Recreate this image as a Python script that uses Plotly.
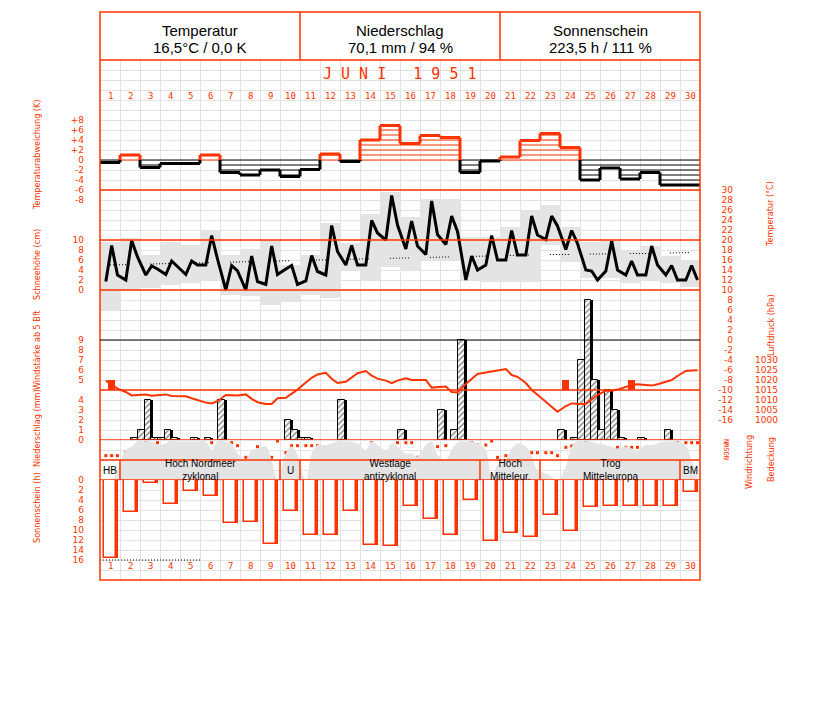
import plotly.graph_objects as go

W, H = 827, 702
OFF = 8  # default page body margin
RED = "#ff3300"
GRID = "#e2e2e2"
GREY = "#e4e4e4"
MONO = "DejaVu Sans Mono"
TICKF = "DejaVu Sans"
NARROW = "DejaVu Sans Condensed, Liberation Sans"

# ---------------- data ----------------
days = list(range(1, 31))
obs_hours = [7, 14, 21]

header_titles = ["Temperatur", "Niederschlag", "Sonnenschein"]
header_values = ["16,5°C / 0,0 K", "70,1 mm / 94 %", "223,5 h / 111 %"]
month_title = "J U N I   1 9 5 1"

# daily temperature deviation (K)
temp_dev = [-0.5, 1.0, -1.5, -0.7, -0.7, 1.0, -2.5, -3.0, -2.0, -3.3,
            -1.9, 1.2, -0.3, 4.0, 6.9, 3.3, 4.9, 4.5, -2.5, -0.2,
            0.6, 3.9, 5.3, 2.5, -4.0, -1.6, -3.8, -2.5, -5.0, -5.0]

# temperature at 7, 14, 21 h (°C)
temp_obs = [11.7, 18.9, 13.0, 12.0, 19.9, 16.6, 13.0, 14.8, 14.2, 13.1, 15.8, 14.6,
            13.1, 15.8, 15.0, 15.0, 20.9, 16.2, 10.0, 14.9, 13.8, 10.0, 16.8, 11.7,
            11.1, 18.8, 13.1, 14.2, 14.9, 11.1, 11.8, 16.9, 13.7, 13.0, 22.9, 17.7,
            15.0, 18.9, 15.0, 15.0, 23.9, 21.4, 20.0, 28.9, 23.0, 18.2, 23.8, 18.8,
            17.1, 27.8, 21.1, 19.1, 24.8, 21.7, 12.0, 16.8, 14.0, 15.0, 20.9, 16.0,
            16.0, 21.9, 17.0, 17.0, 24.8, 21.0, 20.1, 24.8, 22.8, 18.1, 21.9, 19.3,
            14.0, 13.8, 12.0, 13.8, 19.8, 14.0, 13.0, 15.8, 13.0, 13.0, 18.8, 15.0,
            13.0, 14.9, 12.0, 12.0, 14.9, 12.0]

temp_max = [19.6, 20.4, 17.0, 19.6, 19.0, 22.0, 17.0, 18.2, 19.8, 15.0,
            17.0, 23.4, 19.4, 25.2, 29.6, 24.6, 28.2, 28.2, 20.6, 20.6,
            22.6, 25.8, 27.0, 22.6, 19.6, 20.2, 18.0, 18.8, 16.8, 16.0]
temp_min = [6.0, 10.0, 10.5, 11.0, 11.4, 12.0, 9.0, 8.8, 7.0, 7.6,
            9.0, 8.4, 14.0, 12.0, 14.6, 14.0, 16.0, 16.0, 12.0, 11.6,
            11.6, 11.6, 19.0, 15.6, 12.4, 12.4, 11.4, 12.0, 11.4, 10.6]
temp_normal = [15.0, 15.1, 15.2, 15.3, 15.4, 15.5, 15.6, 15.6, 15.7, 15.8,
               15.9, 16.0, 16.1, 16.3, 16.4, 16.5, 16.6, 16.7, 16.8, 16.9,
               17.0, 17.0, 17.1, 17.1, 17.2, 17.2, 17.3, 17.3, 17.4, 17.5]

# air pressure at 7, 14, 21 h (hPa)
pressure_obs = [1019.7, 1017.5, 1015.7, 1014.0, 1012.3, 1012.5, 1012.7, 1012.1, 1012.5,
                1012.8, 1012.0, 1012.0, 1011.9, 1010.9, 1010.0, 1008.7, 1008.3, 1009.4,
                1012.5, 1012.4, 1012.3, 1012.8, 1010.6, 1008.9, 1008.0, 1008.0, 1010.9,
                1011.1, 1013.0, 1015.2, 1018.7, 1021.1, 1022.8, 1023.6, 1020.6, 1018.5,
                1019.1, 1021.1, 1023.4, 1024.5, 1022.2, 1020.7, 1019.7, 1018.4, 1019.7,
                1020.8, 1020.0, 1020.0, 1020.0, 1016.2, 1016.4, 1016.7, 1014.0, 1013.8,
                1018.0, 1020.3, 1023.0, 1023.8, 1024.2, 1024.9, 1025.5, 1022.5, 1021.6,
                1018.5, 1015.0, 1012.6, 1009.1, 1006.2, 1004.1, 1007.0, 1008.3, 1008.1,
                1008.0, 1010.3, 1012.6, 1014.6, 1014.6, 1015.2, 1016.6, 1017.5, 1017.9,
                1017.5, 1017.2, 1017.9, 1019.0, 1020.0, 1022.0, 1024.5, 1024.8, 1024.9]

# precipitation per third of a day (mm)
precip_third = [0, 0, 0, 0, 0, 0.2, 1.0, 4.0, 0.2, 0.2, 1.0, 0.2,
                0, 0, 0.2, 0, 0.2, 0, 4.0, 0, 0, 0, 0, 0,
                0, 0, 0, 0, 2.0, 1.0, 0.2, 0.2, 0, 0, 0, 0,
                4.0, 0, 0, 0, 0, 0, 0, 0, 0, 1.0, 0, 0,
                0, 0, 0, 3.0, 0, 1.0, 10.0, 0, 0, 0, 0, 0,
                0, 0, 0, 0, 0, 0, 0, 0, 0, 1.0, 0, 0.2,
                8.0, 14.0, 6.0, 1.0, 5.0, 3.0, 0.2, 0, 0, 0.2, 0, 0,
                0, 1.0, 0, 0, 0, 0]

# wind direction at 7, 14, 21 h (degrees)
wind_dir_obs = [96, 96, 96, 156, 138, 186, 330, 66, 330, 156, 198, 150,
                198, 276, 276, 186, 330, 276, 276, 330, 276, 66, 66, 258,
                66, 66, 360, 150, 276, 276, 276, 276, 276, 150, 150, 138,
                276, 276, 276, 150, 330, 150, 150, 150, 330, 330, 330, 66,
                150, 150, 258, 276, 108, 198, 288, 330, 288, 288, 360, 66,
                96, 96, 96, 150, 150, 150, 150, 150, 96, 246, 270, 246,
                330, 276, 276, 198, 150, 246, 246, 246, 246, 246, 246, 246,
                276, 276, 330, 330, 330, 330]

# cloud cover at 7, 14, 21 h (octas)
cloud_obs = [0, 0, 2, 6, 6.7, 7.7, 7.7, 7.7, 7, 7.3, 8, 7.7,
             7.7, 7.7, 7.7, 7.7, 6, 7.7, 7.7, 7.3, 5.3, 4, 6, 6.3,
             6.7, 4, 0, 5.3, 6.7, 5, 0, 5.3, 7, 7, 7.3, 7.7,
             7.7, 7.7, 7.3, 6, 7.7, 7, 6, 7.3, 6.7, 5.3, 5.3, 4.7,
             7, 7.7, 5, 4, 6, 7.5, 7.7, 7.7, 7.3, 6, 0, 3,
             4, 6.3, 7.3, 6.7, 4.7, 2, 1.3, 0.7, 0, 2.7, 6.7, 7.7,
             7.7, 7.7, 7.3, 7, 6.7, 6.3, 6.7, 6.3, 6, 7, 7, 7.3,
             7.7, 7.7, 7.7, 6.7, 4, 1.3]

# wind force >= 5 Bft
wind_strong_day = [1, 24, 27]
wind_strong_hour = [14, 7, 14]
wind_strong_bft = [5, 5, 5]

# sunshine duration (h)
sunshine = [15.6, 6.3, 0.5, 4.7, 2.1, 3.2, 8.6, 8.4, 12.8, 6.2,
            11.0, 11.0, 6.2, 13.0, 13.2, 5.2, 7.8, 11.0, 4.0, 12.2,
            10.6, 11.4, 7.0, 10.2, 5.4, 5.2, 5.2, 5.2, 5.2, 2.4]
sun_possible_days = [1, 2, 3, 4, 5]
sun_possible = [16.0, 16.0, 16.0, 16.0, 16.0]

# Grosswetterlagen
weather_types = ["HB", "Hoch Nordmeer<br>zyklonal", "U", "Westlage<br>antizyklonal",
                 "Hoch<br>Mitteleur.", "Trog<br>Mitteleuropa", "BM"]
weather_start = [1, 2, 10, 11, 20, 23, 30]
weather_end = [1, 9, 10, 19, 22, 29, 30]

# ---------------- helpers ----------------
def dom(top, bottom):
    return [1 - (bottom - OFF) / H, 1 - (top - OFF) / H]

def px(x):
    return (x - OFF) / W

def py(y):
    return 1 - (y - OFF) / H

obs_x = [d - 0.5 + h / 24 for d in days for h in obs_hours]
third_x = [d - 0.5 + (k + 0.5) / 3 for d in days for k in range(3)]


def step_outline(vals, positive):
    xs, ys = [], []
    for d, v in zip(days, vals):
        if (v > 0) == positive:
            xs += [d - 0.5, d + 0.5, None]
            ys += [v, v, None]
    for d, a, b in zip(days[:-1], vals[:-1], vals[1:]):
        if positive:
            y0, y1 = max(a, 0), max(b, 0)
        else:
            y0, y1 = min(a, 0), min(b, 0)
        if y0 != y1:
            xs += [d + 0.5, d + 0.5, None]
            ys += [y0, y1, None]
    return xs, ys


def hatch(vals, positive):
    xs, ys = [], []
    for d, v in zip(days, vals):
        if (v > 0) != positive:
            continue
        sgn = 1 if v > 0 else -1
        for k in range(int(abs(v)) + 1):
            xs += [d - 0.5, d + 0.5, None]
            ys += [sgn * k, sgn * k, None]
    return xs, ys


fig = go.Figure()

# base subplot (grid)
fig.add_trace(go.Scatter(x=[], y=[], xaxis="x", yaxis="y", hoverinfo="skip"))

# --- temperature panel (y3) ---
fig.add_trace(go.Bar(x=days, y=[a - b for a, b in zip(temp_max, temp_min)], base=temp_min,
                     width=1.0, marker=dict(color=GREY, line=dict(width=0)),
                     xaxis="x2", yaxis="y3", hoverinfo="skip"))
fig.add_trace(go.Scatter(x=days, y=temp_normal, mode="lines",
                         line=dict(color="black", width=1,
                                   dash="1px,2px,1px,2px,1px,2px,1px,2px,1px,2px,1px,2px,1px,21px"),
                         xaxis="x2", yaxis="y3", hoverinfo="skip"))
fig.add_trace(go.Scatter(x=obs_x, y=temp_obs, mode="lines",
                         line=dict(color="black", width=3), xaxis="x2", yaxis="y3"))

# --- temperature deviation panel (y2) ---
for positive, col in [(False, "black"), (True, RED)]:
    hx, hy = hatch(temp_dev, positive)
    fig.add_trace(go.Scatter(x=hx, y=hy, mode="lines", line=dict(color=col, width=1),
                             xaxis="x2", yaxis="y2", hoverinfo="skip"))
for positive, col in [(False, "black"), (True, RED)]:
    ox, oy = step_outline(temp_dev, positive)
    fig.add_trace(go.Scatter(x=ox, y=oy, mode="lines", line=dict(color=col, width=3),
                             xaxis="x2", yaxis="y2", hoverinfo="skip"))

# snow panel (no snow in June)
fig.add_trace(go.Scatter(x=[], y=[], xaxis="x2", yaxis="y4", hoverinfo="skip"))

# --- precipitation (y6) ---
px_vals = [(x, v) for x, v in zip(third_x, precip_third) if v > 0]
fig.add_trace(go.Bar(x=[x for x, v in px_vals], y=[v for x, v in px_vals], width=1 / 3,
                     marker=dict(color="black", line=dict(width=0)),
                     xaxis="x2", yaxis="y6", hoverinfo="skip"))
fig.add_trace(go.Bar(x=[x - 0.1 for x, v in px_vals], y=[v for x, v in px_vals], width=1 / 3,
                     marker=dict(color="white", line=dict(color="black", width=1),
                                 pattern=dict(shape="/", fgcolor="black", bgcolor="white",
                                              size=4, solidity=0.35)),
                     xaxis="x2", yaxis="y6", hoverinfo="skip"))

# --- pressure (y7) ---
fig.add_trace(go.Scatter(x=obs_x, y=pressure_obs, mode="lines",
                         line=dict(color=RED, width=2), xaxis="x2", yaxis="y7"))

# --- wind >= 5 Bft (y5) ---
fig.add_trace(go.Bar(x=[d - 0.5 + h / 24 for d, h in zip(wind_strong_day, wind_strong_hour)],
                     y=[b - 4 for b in wind_strong_bft], base=4, width=0.35,
                     marker=dict(color=RED, line=dict(width=0)),
                     xaxis="x2", yaxis="y5", hoverinfo="skip"))

# --- cloud cover (y9) ---
fig.add_trace(go.Scatter(x=obs_x, y=cloud_obs, mode="lines", fill="tozeroy",
                         fillcolor=GREY, line=dict(color=GREY, width=0, shape="spline"),
                         xaxis="x2", yaxis="y9", hoverinfo="skip"))

# --- wind direction (y8) ---
fig.add_trace(go.Scatter(x=obs_x, y=wind_dir_obs, mode="markers",
                         marker=dict(symbol="square", size=3, color=RED, line=dict(width=0)),
                         xaxis="x2", yaxis="y8"))

# --- sunshine (y10) ---
fig.add_trace(go.Bar(x=[d + 0.1 for d in days], y=sunshine, width=0.6,
                     marker=dict(color=RED, line=dict(width=0)),
                     xaxis="x2", yaxis="y10", hoverinfo="skip"))
fig.add_trace(go.Bar(x=days, y=sunshine, width=0.6,
                     marker=dict(color="white", line=dict(color=RED, width=1.5)),
                     xaxis="x2", yaxis="y10"))
fig.add_trace(go.Scatter(x=[sun_possible_days[0] - 0.5] + sun_possible_days[1:-1] + [sun_possible_days[-1] + 0.5],
                         y=sun_possible, mode="lines",
                         line=dict(color="black", width=1, dash="1px,2px"),
                         xaxis="x2", yaxis="y10", hoverinfo="skip"))

# ---------------- axes ----------------
tickfont = dict(family=TICKF, size=9, color=RED)


def yax(top, bottom, rng, vals=None, texts=None, pos=None):
    d = dict(domain=dom(top, bottom), range=rng, showgrid=False, zeroline=False,
             showline=False, ticks="", fixedrange=True, automargin=False)
    if vals is not None:
        d.update(anchor="free", position=pos, side="left", tickmode="array",
                 tickvals=vals, ticktext=texts, tickfont=tickfont, showticklabels=True)
    else:
        d.update(anchor="x2", showticklabels=False)
    return d


def lab(v, plus=False):
    if v > 0 and plus:
        return "+" + str(v)
    return str(v)

dev_ticks = list(range(-8, 9, 2))
temp_ticks = list(range(-16, 31, 2))
snow_ticks = list(range(0, 11, 2))
bft_ticks = [5, 6, 7, 8, 9]
hpa_ticks = list(range(1000, 1031, 5))
mm_ticks = [0, 1, 2, 3, 4]
sun_ticks = list(range(0, 17, 2))

LPOS = px(84)

layout = dict(
    width=W, height=H, margin=dict(l=0, r=0, t=0, b=0, autoexpand=False),
    paper_bgcolor="white", plot_bgcolor="rgba(0,0,0,0)",
    showlegend=False, barmode="overlay", bargap=0,
    xaxis=dict(domain=[px(100), px(700)], range=[0.5, 30.5], anchor="y", showgrid=True,
               gridcolor=GRID, gridwidth=1, tick0=0.5, dtick=1, showticklabels=False,
               ticks="", zeroline=False, showline=False, fixedrange=True, automargin=False),
    xaxis2=dict(domain=[px(100), px(700)], range=[0.5, 30.5], anchor="y2", visible=False,
                matches="x", fixedrange=True, automargin=False),
    yaxis=dict(domain=dom(60, 580), range=[0, 52], anchor="x", showgrid=True, gridcolor=GRID,
               gridwidth=1, tick0=0, dtick=1, showticklabels=False, ticks="",
               zeroline=False, showline=False, fixedrange=True, automargin=False),
    yaxis2=yax(95, 205, [-9, 13], dev_ticks, [lab(v, True) for v in dev_ticks], LPOS),
    yaxis3=yax(185, 425, [-17, 31], temp_ticks, [str(v) for v in temp_ticks], px(733)),
    yaxis4=yax(235, 295, [-1, 11], snow_ticks, [str(v) for v in snow_ticks], LPOS),
    yaxis5=yax(335, 395, [3.5, 9.5], bft_ticks, [str(v) for v in bft_ticks], LPOS),
    yaxis6=yax(295, 440, [0, 14.5], mm_ticks, [str(v) for v in mm_ticks], LPOS),
    yaxis7=yax(295, 440, [990, 1062.5], hpa_ticks, [str(v) for v in hpa_ticks], px(778)),
    yaxis8=yax(440, 462, [-18, 378]),
    yaxis9=yax(440, 480, [0, 8]),
    yaxis10=yax(480, 565, [17, 0], sun_ticks, [str(v) for v in sun_ticks], LPOS),
)
fig.update_layout(**layout)

# ---------------- shapes ----------------
shapes = []
line_red = dict(color=RED, width=1.5)
# frame and header
shapes.append(dict(type="rect", xref="paper", yref="paper", x0=px(100), x1=px(700),
                   y0=py(580), y1=py(12), line=line_red, layer="above"))
shapes.append(dict(type="line", xref="paper", yref="paper", x0=px(100), x1=px(700),
                   y0=py(60), y1=py(60), line=line_red, layer="above"))
for xs in (300, 500):
    shapes.append(dict(type="line", xref="paper", yref="paper", x0=px(xs), x1=px(xs),
                       y0=py(60), y1=py(12), line=line_red, layer="above"))
# panel separators
for yref, yv, col in [("y3", 30, RED), ("y3", 20, RED), ("y3", 10, RED),
                      ("y7", 1015, RED), ("y6", 0, RED), ("y6", 10, "black"),
                      ("y9", 4, RED), ("y9", 0, RED)]:
    shapes.append(dict(type="line", xref="paper", yref=yref, x0=px(100), x1=px(700),
                       y0=yv, y1=yv, line=dict(color=col, width=1.5 if col == RED else 1.2),
                       layer="above"))
# weather type dividers
for s in weather_start[1:]:
    shapes.append(dict(type="line", xref="x2", yref="y9", x0=s - 0.5, x1=s - 0.5,
                       y0=0, y1=4, line=line_red, layer="above"))
fig.update_layout(shapes=shapes)

# ---------------- annotations ----------------
ann = []
C = dict(showarrow=False, xanchor="center", yanchor="middle")
for i, (t, v) in enumerate(zip(header_titles, header_values)):
    xc = px(200 + 200 * i)
    ann.append(dict(text=t, x=xc, y=py(30), xref="paper", yref="paper",
                    font=dict(family="Liberation Sans", size=15, color="black"), **C))
    ann.append(dict(text=v, x=xc, y=py(47), xref="paper", yref="paper",
                    font=dict(family="Liberation Sans", size=15, color="black"), **C))
ann.append(dict(text=month_title, x=px(400), y=py(74), xref="paper", yref="paper",
                font=dict(family=MONO, size=15, color=RED), **C))
for d in days:
    for yy in (96, 566):
        ann.append(dict(text=str(d), x=d, y=py(yy), xref="x2", yref="paper",
                        font=dict(family=MONO, size=9, color=RED), **C))
for name, s, e in zip(weather_types, weather_start, weather_end):
    ann.append(dict(text=name, x=(s + e) / 2, y=2, xref="x2", yref="y9",
                    font=dict(family="Liberation Sans", size=10, color="black"), **C))

side_labels = [("Temperaturabweichung (K)", 37, 155), ("Schneehöhe (cm)", 37, 265),
               ("Windstärke ab 5 Bft", 37, 350), ("Niederschlag (mm)", 37, 428),
               ("Sonnenschein (h)", 37, 508), ("Temperatur (°C)", 770, 214),
               ("Luftdruck (hPa)", 771, 325), ("Windrichtung", 749, 462),
               ("Bedeckung", 771, 460)]
for t, x, y in side_labels:
    ann.append(dict(text=t, x=px(x), y=py(y), xref="paper", yref="paper", textangle=-90,
                    font=dict(family=NARROW, size=9, color=RED), **C))
ann.append(dict(text="NOSWN", x=px(727), y=py(450), xref="paper", yref="paper",
                textangle=-90, font=dict(family=MONO, size=7, color=RED), **C))
fig.update_layout(annotations=ann)

fig.write_html("out.html")
